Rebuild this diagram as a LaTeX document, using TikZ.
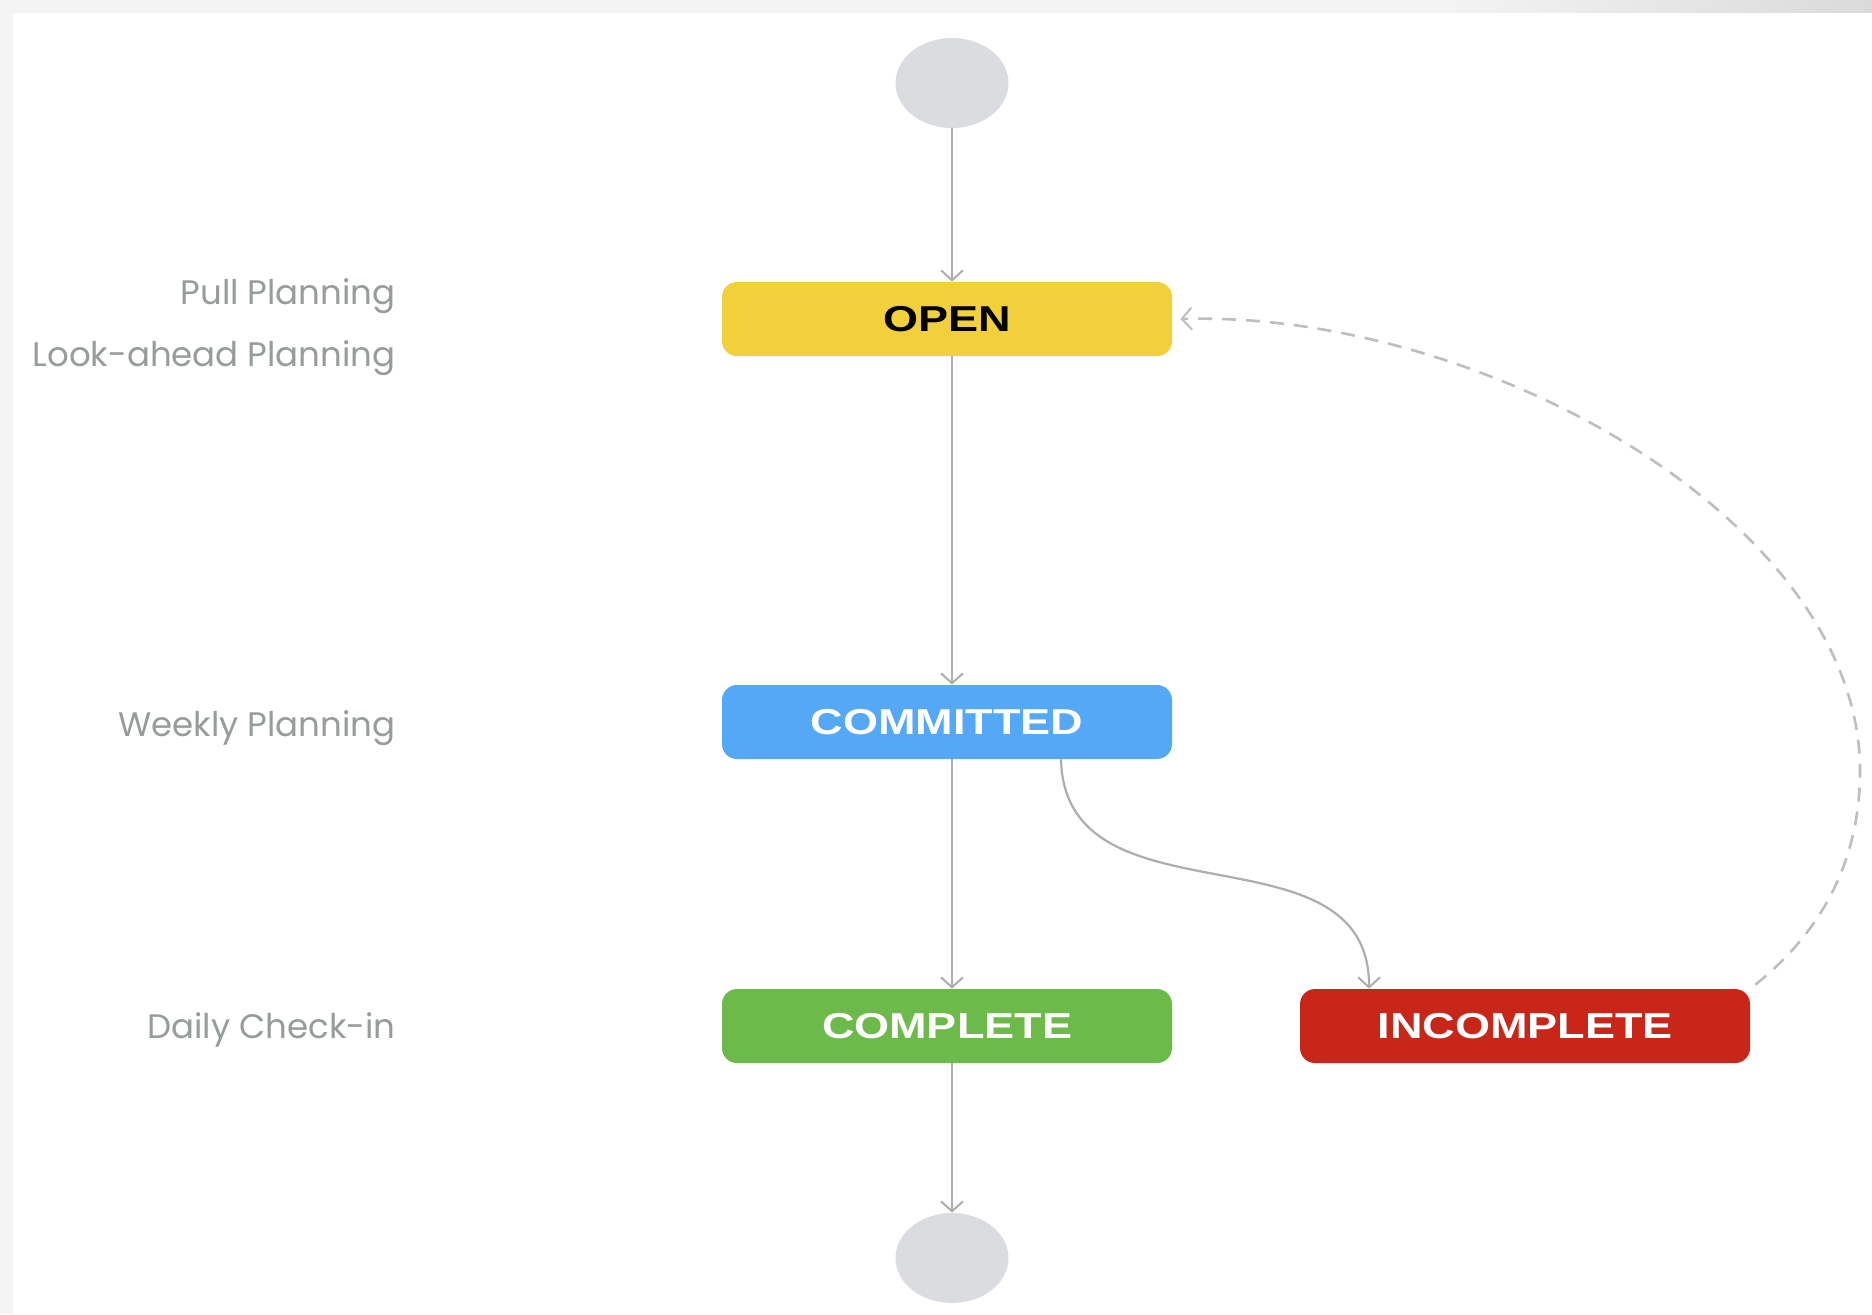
\documentclass[tikz,border=0pt]{standalone}
\usepackage{fontspec}
\usetikzlibrary{arrows.meta,shapes.geometric}
\newfontfamily\boxfont[FakeStretch=1.25]{Liberation Sans}
\newfontfamily\labfont{Poppins}
\definecolor{cyellow}{RGB}{242,208,60}
\definecolor{cblue}{RGB}{85,168,245}
\definecolor{cgreen}{RGB}{108,186,74}
\definecolor{cred}{RGB}{200,38,25}
\definecolor{cterm}{RGB}{218,220,224}
\definecolor{cline}{RGB}{172,174,174}
\definecolor{cdash}{RGB}{190,190,190}
\definecolor{clab}{RGB}{150,155,155}
\definecolor{cframe}{RGB}{243,243,243}
\definecolor{cframedark}{RGB}{218,218,218}
\tikzset{
  statebox/.style={rectangle, rounded corners=7.5pt, minimum width=225pt, minimum height=37pt,
    inner sep=0pt, draw=none, font=\boxfont\bfseries\fontsize{18}{20}\selectfont, text=white},
  termnode/.style={ellipse, minimum width=56.5pt, minimum height=45pt, fill=cterm, draw=none, inner sep=0pt},
  conn/.style={draw=cline, line width=1.1pt, -{Straight Barb[length=5pt,width=11pt,line width=1pt]}},
  dashconn/.style={draw=cdash, line width=1.3pt, dash pattern=on 7pt off 5pt,
    -{Straight Barb[length=5pt,width=11pt,line width=1pt]}},
  lab/.style={anchor=east, text=clab, font=\labfont\fontsize{17}{19}\selectfont, inner sep=0pt}
}
\begin{document}
\begin{tikzpicture}[x=0.5pt,y=-0.5pt]
\useasboundingbox (0,0) rectangle (1872,1314);
\fill[cframe] (0,0) rectangle (1872,1314);
\shade[left color=cframe, right color=cframedark] (1450,0) rectangle (1872,13);
\fill[white] (13,13) rectangle (1872,1314);

\node[termnode] (start) at (952,83) {};
\node[termnode] (stop) at (952,1258) {};

\node[statebox, fill=cyellow, text=black] (open) at (947,319) {OPEN};
\node[statebox, fill=cblue] (committed) at (947,722) {COMMITTED};
\node[statebox, fill=cgreen] (complete) at (947,1026) {COMPLETE};
\node[statebox, fill=cred] (incomplete) at (1525,1026) {INCOMPLETE};

\node[lab] (l1) at (396,296) {Pull Planning};
\node[lab] (l2) at (396,358) {Look-ahead Planning};
\node[lab] (l3) at (396,728) {Weekly Planning};
\node[lab] (l4) at (396,1030) {Daily Check-in};

\draw[conn] (start.south) -- (start.south |- open.north);
\draw[conn] (open.south -| start.south) -- (committed.north -| start.south);
\draw[conn] (committed.south -| start.south) -- (complete.north -| start.south);
\draw[conn] (complete.south -| start.south) -- (stop.north);

\coordinate (c1) at ([xshift=57pt]committed.south);
\coordinate (c2) at ([xshift=-78pt]incomplete.north);
\draw[conn] (c1) .. controls +(4,171) and +(1,-169) .. (c2);

\coordinate (d1) at ([xshift=2.5pt,yshift=2pt]incomplete.north east);
\coordinate (d2) at ([xshift=4pt]open.east);
\draw[dashconn] (d1) .. controls (1830,925) and (1860,850) .. (1860,771)
  .. controls (1860,520) and (1480,310) .. (d2);
\end{tikzpicture}
\end{document}
